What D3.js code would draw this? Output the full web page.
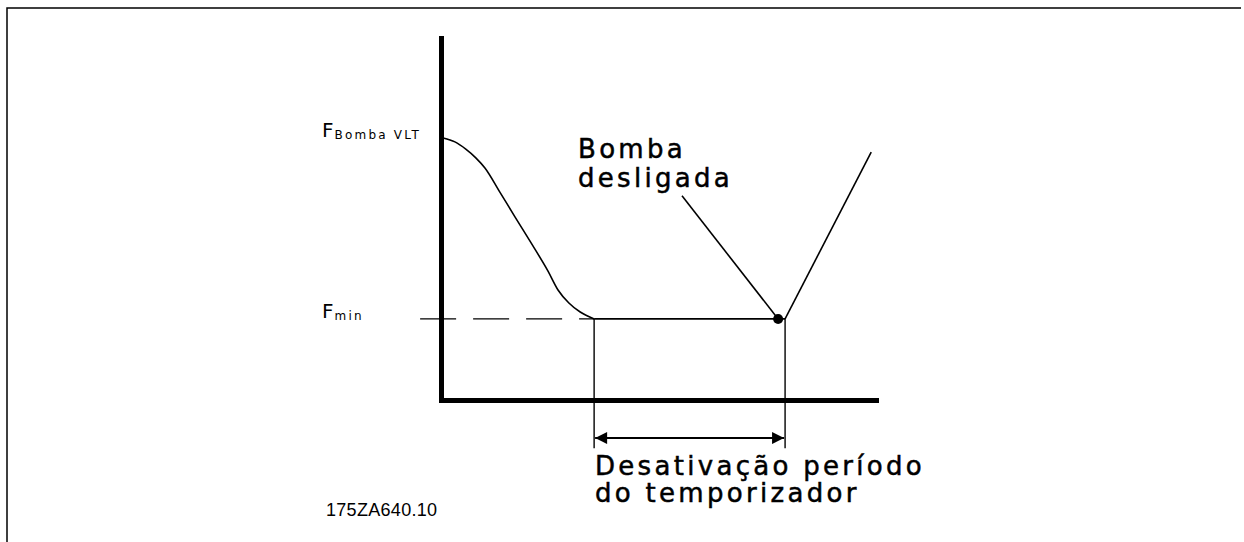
<!DOCTYPE html>
<html>
<head>
	<title>Sleep mode</title>
	<script src="https://d3js.org/d3.v7.min.js"></script>
	<style>
	  body { margin: 0; background: #fff; overflow: hidden; }
	  svg { display: block; }
	  .cad { font-family: "DejaVu Sans", sans-serif; letter-spacing: 3.3px; stroke: #000; stroke-width: 0.5px; }
	  .sub { font-family: "DejaVu Sans", sans-serif; letter-spacing: 2.2px; }
	  .lbl { font-family: "Liberation Sans", Arial, sans-serif; }
	</style>
</head>
<body>
<script>
// time (0..100) vs frequency (0..100)
var curveT = [0.5, 3.2, 5.7, 8.0, 10.1, 13.6, 17.0, 20.5, 24.6, 26.9, 29.4, 32.0, 35.2];
var curveF = [72.4, 71.3, 69.3, 66.9, 64.1, 57.3, 50.6, 43.8, 35.6, 30.4, 26.8, 24.3, 22.4];
var fLevels = [72.4, 22.4];           // F Bomba VLT, F min
var fNames = ["Bomba VLT", "min"];
var timerT = [35.2, 79.1];            // timer start / pump off
var dotT = 77.5;
var restartT = [79.1, 98.9];
var restartF = [22.4, 68.5];
var leaderT = [55.4, 77.5];
var leaderF = [56.4, 22.4];
var noteLines = ["Bomba", "desligada"];
var timerLines = ["Desativação período", "do temporizador"];
var figId = "175ZA640.10";

var W = 1244, H = 542;
var svg = d3.select("body")
       .append("svg")
       .attr("width", W)
       .attr("height", H);

var x = d3.scaleLinear().domain([0, 100]).range([441, 876]);
var y = d3.scaleLinear().domain([0, 100]).range([400, 38]);

// frame (top and left only)
svg.append("path")
   .attr("d", "M7," + H + "V8H" + (W - 3))
   .attr("fill", "none").attr("stroke", "#000").attr("stroke-width", 1.5);

// axes, no ticks
svg.append("g").attr("transform", "translate(" + x(0) + ",0)")
   .call(d3.axisLeft(y).tickValues([]).tickSizeOuter(0));
svg.append("g").attr("transform", "translate(0," + y(0) + ")")
   .call(d3.axisBottom(x).tickValues([]).tickSizeOuter(0));
svg.selectAll(".domain").attr("stroke", "#000").attr("stroke-width", 5)
   .attr("stroke-linecap", "square");

var line = d3.line().x(function(d){ return x(d[0]); }).y(function(d){ return y(d[1]); });

// speed curve
svg.append("path")
   .datum(d3.zip(curveT, curveF))
   .attr("d", line.curve(d3.curveMonotoneX))
   .attr("fill", "none").attr("stroke", "#000").attr("stroke-width", 1.6);
line.curve(d3.curveLinear);

// dashed Fmin guide
svg.append("line")
   .attr("x1", x(-4.8)).attr("x2", x(timerT[0]))
   .attr("y1", y(fLevels[1])).attr("y2", y(fLevels[1]))
   .attr("stroke", "#000").attr("stroke-width", 1.4)
   .attr("stroke-dasharray", "36,17");

// Fmin plateau
svg.append("line")
   .attr("x1", x(timerT[0])).attr("x2", x(timerT[1]))
   .attr("y1", y(fLevels[1])).attr("y2", y(fLevels[1]))
   .attr("stroke", "#000").attr("stroke-width", 1.6);

// restart ramp
svg.append("path")
   .datum(d3.zip(restartT, restartF))
   .attr("d", line)
   .attr("fill", "none").attr("stroke", "#000").attr("stroke-width", 1.6);

// drop lines for timer
svg.selectAll("line.drop").data(timerT).enter().append("line")
   .attr("class", "drop")
   .attr("x1", function(d){ return x(d); }).attr("x2", function(d){ return x(d); })
   .attr("y1", y(fLevels[1])).attr("y2", y(-13.3))
   .attr("stroke", "#000").attr("stroke-width", 1.4);

// dimension arrow
var defs = svg.append("defs");
defs.append("marker").attr("id", "ah").attr("viewBox", "0 0 10 10")
   .attr("refX", 10).attr("refY", 5).attr("markerWidth", 20).attr("markerHeight", 12)
   .attr("markerUnits", "userSpaceOnUse").attr("orient", "auto-start-reverse")
   .append("path").attr("d", "M0,0L10,5L0,10Z").attr("fill", "#000");
svg.append("line")
   .attr("x1", x(timerT[0]) + 1).attr("x2", x(timerT[1]) - 1)
   .attr("y1", y(-10.5)).attr("y2", y(-10.5))
   .attr("stroke", "#000").attr("stroke-width", 2)
   .attr("marker-start", "url(#ah)").attr("marker-end", "url(#ah)");

// leader + dot
svg.append("path")
   .datum(d3.zip(leaderT, leaderF))
   .attr("d", line)
   .attr("fill", "none").attr("stroke", "#000").attr("stroke-width", 1.6);
svg.append("circle")
   .attr("cx", x(dotT)).attr("cy", y(fLevels[1])).attr("r", 5).attr("fill", "#000");

// F labels
var fl = svg.selectAll("text.f").data(fLevels).enter().append("text")
   .attr("class", "sub")
   .attr("x", 322)
   .attr("y", function(d){ return y(d) - 1; })
   .attr("font-size", 20);
fl.append("tspan").style("letter-spacing", "0px").text("F");
fl.append("tspan").attr("font-size", 12).attr("dx", 1).attr("dy", 2)
   .text(function(d, i){ return fNames[i]; });

// annotations
svg.selectAll("text.note").data(noteLines).enter().append("text")
   .attr("class", "cad")
   .attr("x", 578).attr("y", function(d, i){ return 158 + i * 29; })
   .attr("font-size", 26)
   .text(function(d){ return d; });

svg.selectAll("text.timer").data(timerLines).enter().append("text")
   .attr("class", "cad")
   .attr("x", 595).attr("y", function(d, i){ return 475 + i * 27; })
   .attr("font-size", 26)
   .text(function(d){ return d; });

svg.append("text").attr("class", "lbl")
   .attr("x", 326).attr("y", 516).attr("font-size", 18)
   .style("letter-spacing", "0.3px")
   .text(figId);
</script>
</body>
</html>
